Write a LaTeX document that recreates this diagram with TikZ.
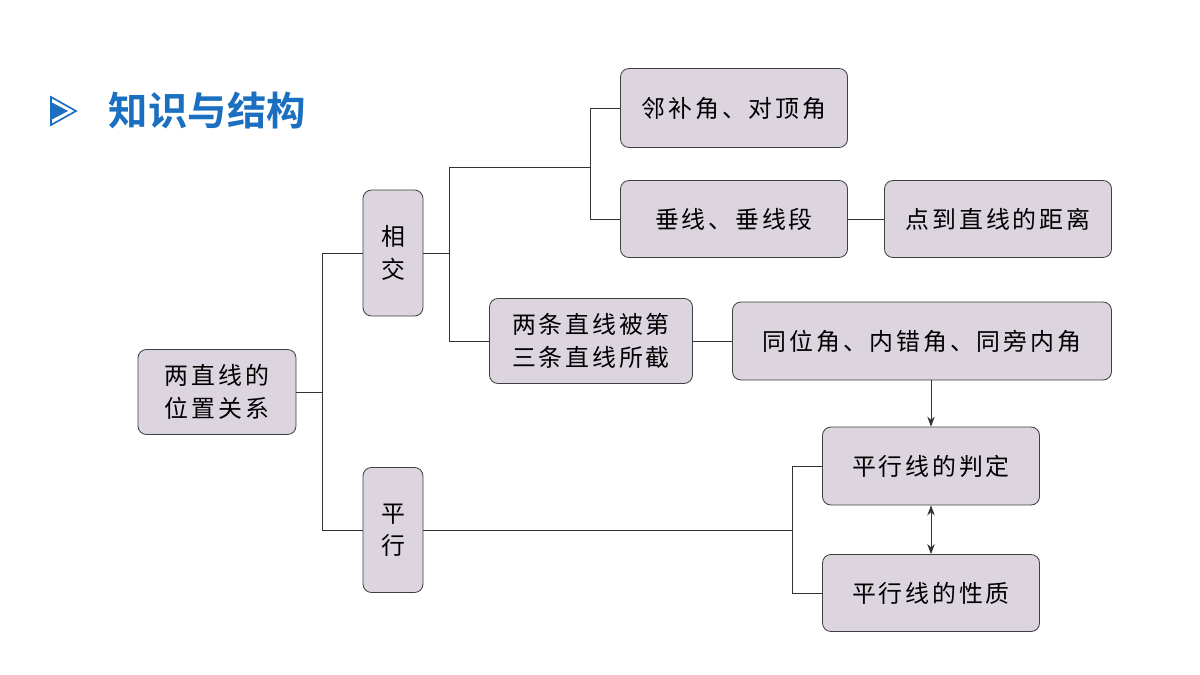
\documentclass[tikz,border=0pt]{standalone}
\usepackage{fontspec}
\newfontfamily\cjk[LetterSpace=12]{Noto Sans CJK SC}
\newfontfamily\cjkbold{Noto Sans CJK SC Bold}
\usetikzlibrary{arrows.meta,positioning}
\definecolor{boxfill}{HTML}{DCD5DF}
\definecolor{titleblue}{HTML}{1A6FC0}
\begin{document}
\begin{tikzpicture}[
    x=0.025cm, y=-0.025cm,
    item/.style={rectangle, rounded corners=6pt, draw=black!75, fill=boxfill, line width=0.6pt, align=center, font=\cjk\fontsize{17}{23}\selectfont, inner sep=0pt},
    link/.style={line width=0.6pt, black!80},
    arrow/.style={link, -{Stealth[length=2.5mm]}}
]
\useasboundingbox (0,0) rectangle (1200,675);
% title
\draw[titleblue, line width=1.2pt] (51,97) -- (76,111) -- (51,125) -- cycle;
\fill[titleblue] (51,102) -- (68,111) -- (51,120) -- cycle;
\node[anchor=west, text=titleblue, font=\cjkbold\fontsize{28}{32}\selectfont] (title) at (104,111) {知识与结构};
% boxes
\node[item, minimum width=158*0.025cm, minimum height=85*0.025cm] (root) at (217,392) {两直线的\\位置关系};
\node[item, minimum width=60*0.025cm, minimum height=126*0.025cm] (cross) at (393,253) {相\\交};
\node[item, minimum width=60*0.025cm, minimum height=125*0.025cm] (para) at (393,530) {平\\行};
\node[item, minimum width=227*0.025cm, minimum height=79*0.025cm] (adj) at (734,108) {邻补角、对顶角};
\node[item, minimum width=227*0.025cm, minimum height=77*0.025cm] (perp) at (734,219) {垂线、垂线段};
\node[item, minimum width=227*0.025cm, minimum height=77*0.025cm] (dist) at (998,219) {点到直线的距离};
\node[item, minimum width=203*0.025cm, minimum height=85*0.025cm] (third) at (591,341) {两条直线被第\\三条直线所截};
\node[item, minimum width=379*0.025cm, minimum height=78*0.025cm] (angles) at (922,341) {同位角、内错角、同旁内角};
\node[item, minimum width=217*0.025cm, minimum height=78*0.025cm] (judge) at (931,466) {平行线的判定};
\node[item, minimum width=217*0.025cm, minimum height=77*0.025cm] (prop) at (931,593) {平行线的性质};
% connectors
\coordinate (b1) at (322,392);
\coordinate (b2) at (449,253);
\coordinate (b3) at (590,167);
\coordinate (b4) at (792,530);
\draw[link] (root.east) -- (b1) |- (cross.west);
\draw[link] (b1) |- (para.west);
\draw[link] (cross.east) -- (b2) |- (b3);
\draw[link] (b2) |- (third.west);
\draw[link] (b3) |- (adj.west);
\draw[link] (b3) |- (perp.west);
\draw[link] (perp) -- (dist);
\draw[link] (third) -- (angles);
\draw[link] (para.east) -- (b4);
\draw[link] (b4) |- (judge.west);
\draw[link] (b4) |- (prop.west);
\draw[arrow] (judge.south |- angles.south) -- (judge.north);
\draw[link, {Stealth[length=2.5mm]}-{Stealth[length=2.5mm]}] (judge.south) -- (prop.north);
\end{tikzpicture}
\end{document}
